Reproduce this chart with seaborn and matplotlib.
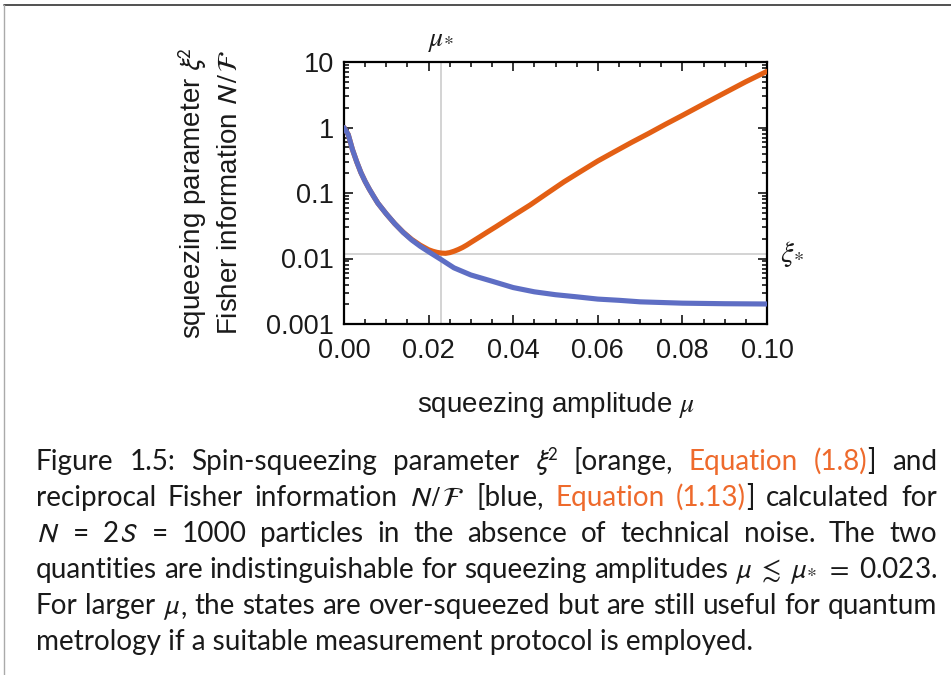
import numpy as np
import pandas as pd
import matplotlib
matplotlib.use("Agg")
import matplotlib.pyplot as plt
import seaborn as sns
from matplotlib.ticker import LogLocator, MultipleLocator, NullFormatter
from matplotlib.lines import Line2D

# ---------------- data ----------------
mu_fisher = [0, 0.001, 0.002, 0.003, 0.004, 0.005, 0.006, 0.007, 0.008, 0.010,
             0.012, 0.014, 0.016, 0.018, 0.020, 0.023, 0.026, 0.030, 0.035,
             0.040, 0.045, 0.050, 0.055, 0.060, 0.065, 0.070, 0.080, 0.090, 0.100]
fisher_inv = [1.0, 0.78, 0.46, 0.30, 0.205, 0.150, 0.114, 0.089, 0.070, 0.048,
              0.034, 0.025, 0.0192, 0.0154, 0.0127, 0.0096, 0.0072, 0.0056, 0.0045,
              0.0036, 0.0031, 0.0028, 0.0026, 0.0024, 0.0023, 0.00218, 0.00208,
              0.00204, 0.00202]

mu_squeeze = [0, 0.001, 0.002, 0.003, 0.004, 0.005, 0.006, 0.007, 0.008, 0.010,
              0.012, 0.014, 0.016, 0.018, 0.020, 0.021, 0.022, 0.023, 0.024,
              0.025, 0.026, 0.027, 0.028, 0.029, 0.030, 0.032, 0.034, 0.036,
              0.040, 0.044, 0.048, 0.052, 0.056, 0.060, 0.064, 0.068, 0.072,
              0.076, 0.080, 0.085, 0.090, 0.095, 0.100]
xi2 = [1.0, 0.78, 0.46, 0.30, 0.205, 0.150, 0.114, 0.089, 0.070, 0.048,
       0.034, 0.0252, 0.0196, 0.0160, 0.0136, 0.0129, 0.0124, 0.0121, 0.0120,
       0.0123, 0.0129, 0.0137, 0.0147, 0.0160, 0.0176, 0.0212, 0.0256, 0.0308,
       0.0451, 0.0656, 0.0988, 0.148, 0.214, 0.308, 0.428, 0.593, 0.81,
       1.12, 1.53, 2.28, 3.38, 5.0, 7.2]

mu_star = 0.023
xi_star = 0.0118

x_ticks = [0.00, 0.02, 0.04, 0.06, 0.08, 0.10]
x_ticklabels = ["0.00", "0.02", "0.04", "0.06", "0.08", "0.10"]
y_ticks = [0.001, 0.01, 0.1, 1, 10]
y_ticklabels = ["0.001", "0.01", "0.1", "1", "10"]

ORANGE = "#E35F14"
BLUE = "#5E6EC4"
CAP_ORANGE = "#EE6A2C"
GRAY = "#c8c8c8"
INK = "#1a1a1a"

# ---------------- figure ----------------
sns.set_style("ticks")
plt.rcParams["font.family"] = ["Liberation Sans", "DejaVu Sans"]

W, H = 951, 675
fig = plt.figure(figsize=(W / 100, H / 100), dpi=100)
fig.patch.set_facecolor("white")
ax = fig.add_axes([344 / W, 1 - 324 / H, 423 / W, 262 / H])

df_s = pd.DataFrame({"mu": mu_squeeze, "val": xi2})
df_f = pd.DataFrame({"mu": mu_fisher, "val": fisher_inv})

ax.axvline(mu_star, color=GRAY, lw=1.1, zorder=1)
ax.axhline(xi_star, color=GRAY, lw=1.1, zorder=1)
sns.lineplot(data=df_s, x="mu", y="val", color=ORANGE, linewidth=3.7, ax=ax, zorder=3)
sns.lineplot(data=df_f, x="mu", y="val", color=BLUE, linewidth=3.7, ax=ax, zorder=4)

ax.set_yscale("log")
ax.set_xlim(0, 0.1)
ax.set_ylim(1e-3, 10)
ax.set_xticks(x_ticks)
ax.set_xticklabels(x_ticklabels)
ax.set_yticks(y_ticks)
ax.set_yticklabels(y_ticklabels)
ax.xaxis.set_minor_locator(MultipleLocator(0.005))
ax.yaxis.set_minor_locator(LogLocator(base=10, subs=np.arange(2, 10) * 1.0, numticks=20))
ax.yaxis.set_minor_formatter(NullFormatter())
ax.tick_params(which="both", direction="in", top=True, right=True, width=1.1, color="black")
ax.tick_params(which="major", length=6.5, labelsize=19.5, labelcolor=INK)
ax.tick_params(axis="x", which="major", pad=10)
ax.tick_params(axis="y", which="major", pad=7)
ax.tick_params(which="minor", length=3.5)
for s in ax.spines.values():
    s.set_linewidth(1.6)
    s.set_color("black")

ax.set_xlabel(r"squeezing amplitude $\mu$", fontsize=20, color=INK, math_fontfamily="stix")
ax.xaxis.set_label_coords(0.5, -0.252)
ax.set_ylabel("squeezing parameter $\\xi^2$\nFisher information $N\\,/\\,\\mathcal{F}$",
              fontsize=20, color=INK, linespacing=1.4, math_fontfamily="stixsans")
ax.yaxis.set_label_coords(-0.239, 0.5)

ax.text(mu_star, 1.061, r"$\mu_{\!*}$", transform=ax.get_xaxis_transform(), ha="center",
        va="baseline", fontsize=20, color=INK, math_fontfamily="stix")
ax.text(1.031, xi_star, r"$\xi_{\!*}$", transform=ax.get_yaxis_transform(), ha="left",
        va="center", fontsize=21, color=INK, math_fontfamily="stix")

# page frame lines
fig.add_artist(Line2D([4 / W, 1], [1 - 5 / H, 1 - 5 / H], transform=fig.transFigure,
                      color="#333333", lw=1.2))
fig.add_artist(Line2D([4 / W, 4 / W], [0, 1 - 5 / H], transform=fig.transFigure,
                      color="#aaaaaa", lw=1.0))

# ---------------- caption ----------------
renderer = fig.canvas.get_renderer()
CAP_FONT = ["Lato", "DejaVu Sans"]
LEFT, RIGHT = 36, 937

last_line = "metrology if a suitable measurement protocol is employed."
probe = fig.text(0, 0, last_line, fontsize=17, family=CAP_FONT)
w_probe = probe.get_window_extent(renderer).width
probe.remove()
cap_size = float(np.clip(17 * 716 / w_probe, 15, 22))

O = CAP_ORANGE
lines = [
    ["Figure", "1.5:", "Spin-squeezing", "parameter", [(r"$\xi^2$", INK)], "[orange,",
     [("Equation", O)], [("(1.8)", O), ("]", INK)], "and"],
    ["reciprocal", "Fisher", "information", [(r"$N\,/\,\mathcal{F}$", INK)], "[blue,",
     [("Equation", O)], [("(1.13)", O), ("]", INK)], "calculated", "for"],
    [[(r"$N$", INK)], [("=", INK)], [("2", INK), (r"$S$", INK)], [("=", INK)], "1000",
     "particles", "in", "the", "absence", "of", "technical", "noise.", "The", "two"],
    ["quantities", "are", "indistinguishable", "for", "squeezing", "amplitudes",
     [(r"$\mu\;\lesssim\;\mu_{\!*}\;=\;$0.023.", INK)]],
    ["For", "larger", [(r"$\mu$", INK), (",", INK)], "the", "states", "are", "over-squeezed",
     "but", "are", "still", "useful", "for", "quantum"],
]
baselines = [470, 506, 542, 578, 614, 650]


def make_token(tok):
    if isinstance(tok, str):
        tok = [(tok, INK)]
    objs = []
    for s, c in tok:
        t = fig.text(0, 0, s, fontsize=cap_size, family=CAP_FONT, color=c,
                     ha="left", va="baseline", math_fontfamily="stixsans")
        objs.append(t)
    widths = [o.get_window_extent(renderer).width for o in objs]
    return objs, widths


for li, toks in enumerate(lines):
    built = [make_token(t) for t in toks]
    total = sum(sum(w) for _, w in built)
    gap = (RIGHT - LEFT - total) / (len(built) - 1)
    x = LEFT
    yb = 1 - baselines[li] / H
    for objs, widths in built:
        for o, w in zip(objs, widths):
            o.set_position((x / W, yb))
            x += w
        x += gap

fig.text(LEFT / W, 1 - baselines[5] / H, last_line, fontsize=cap_size, family=CAP_FONT,
         color=INK, ha="left", va="baseline")

fig.savefig("out.png", dpi=100)
